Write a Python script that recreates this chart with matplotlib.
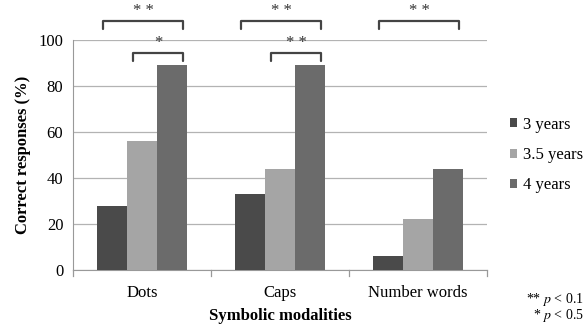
import numpy as np
import matplotlib.pyplot as plt

plt.rcParams['font.family'] = ['Liberation Serif', 'DejaVu Serif']
plt.rcParams['mathtext.fontset'] = 'stix'

categories = ['Dots', 'Caps', 'Number words']
series = ['3 years', '3.5 years', '4 years']
values_3 = [28, 33, 6]
values_35 = [56, 44, 22]
values_4 = [89, 89, 44]
colors = ['#4a4a4a', '#a5a5a5', '#6b6b6b']

# significance brackets: (category, first bar, last bar, level, label)
brackets = [
    (0, 0, 2, 'outer', '* *'),
    (0, 1, 2, 'inner', '*'),
    (1, 0, 2, 'outer', '* *'),
    (1, 1, 2, 'inner', '* *'),
    (2, 0, 2, 'outer', '* *'),
]

fig = plt.figure(figsize=(5.85, 3.26), dpi=100)
ax = fig.add_axes([73 / 585, 1 - 270 / 326, (487 - 73) / 585, 230 / 326])

x = np.arange(len(categories))
w = 0.217
for i, (vals, lab) in enumerate(zip([values_3, values_35, values_4], series)):
    ax.bar(x + (i - 1) * w, vals, w, color=colors[i], label=lab, zorder=3)

ax.set_xlim(-0.5, 2.5)
ax.set_ylim(0, 100)
ax.set_yticks(range(0, 101, 20))
ax.yaxis.grid(True, color='#b3b3b3', linewidth=0.9, zorder=0)
ax.set_xticks(x)
ax.set_xticklabels(categories, fontsize=12)
ax.tick_params(axis='x', length=0, pad=11)
ax.tick_params(axis='y', length=0, labelsize=12, pad=7)
for xb in [-0.5, 0.5, 1.5, 2.5]:
    ax.plot([xb, xb], [0, -2.5], color='#999999', lw=0.9, clip_on=False)
for s in ['top', 'right']:
    ax.spines[s].set_visible(False)
ax.spines['left'].set_color('#999999')
ax.spines['bottom'].set_color('#999999')

ax.set_xlabel('Symbolic modalities', fontsize=12, fontweight='bold', labelpad=5)
ax.set_ylabel('Correct responses (%)', fontsize=12, fontweight='bold', labelpad=5)

for c, b0, b1, level, lab in brackets:
    x0 = c + (b0 - 1) * w - 0.065
    x1 = c + (b1 - 1) * w + 0.08
    if level == 'outer':
        top, bot = 108.3, 104.8
    else:
        top, bot = 94.5, 91
    ax.plot([x0, x0, x1, x1], [bot, top, top, bot], color='#444444', lw=1.6,
            clip_on=False, solid_capstyle='round')
    ax.text((x0 + x1) / 2, top + 0.8, lab, ha='center', va='bottom',
            fontsize=12, color='#333333', clip_on=False)

leg = ax.legend(loc='center left', bbox_to_anchor=(1.055, 0.5), frameon=False,
                fontsize=12, handlelength=0.45, handleheight=0.45,
                handletextpad=0.35, labelspacing=0.85,
                borderaxespad=0, borderpad=0)

fig.text(0.998, 1 - 300 / 326, '** $p$ < 0.1', ha='right', va='center', fontsize=10)
fig.text(0.998, 1 - 316 / 326, '* $p$ < 0.5', ha='right', va='center', fontsize=10)

fig.savefig('out.png', dpi=100)
